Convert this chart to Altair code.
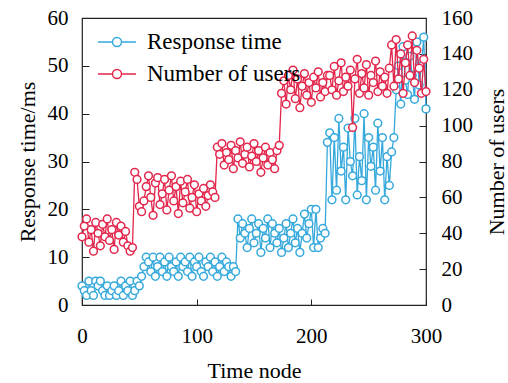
import altair as alt
import pandas as pd

time_nodes = list(range(0, 301, 2))

response_time = (
    [4, 3, 2, 5, 3, 2, 5, 4, 5, 3, 2, 4, 2, 3, 4, 2, 3, 5, 2, 4, 3, 5, 2]
    + [3, 5, 4, 6, 8, 10]
    + [9, 7, 10, 6, 8, 10, 7, 9, 6, 10, 8, 7, 9, 6, 10, 8, 9, 7, 10, 6,
       9, 8, 10, 7, 6, 9, 8, 10, 7, 9, 6, 8, 10, 7, 9, 8, 6, 8, 7]
    + [18, 14, 17, 15, 12, 16, 18, 13, 15, 17, 11, 16, 14, 18, 12, 17, 15, 13, 16, 11,
       14, 17, 12, 15, 18, 13, 16, 11, 15, 19, 14, 17, 20, 12]
    + [20, 12, 14, 16, 15]
    + [34, 36, 22, 35, 24, 39, 28, 33, 22, 37, 30, 27, 39, 23, 31, 26, 40, 22, 35, 29,
       33, 24, 38, 28, 35, 22, 31, 25]
    + [32, 35, 45, 50, 42, 54, 47, 44, 52, 48, 43, 55, 46, 50, 56, 41]
)

number_of_users = (
    [38, 44, 48, 35, 42, 30, 46, 40, 33, 45, 38, 48, 36, 42, 31, 46, 39, 44, 35, 41, 33, 30, 32]
    + [74, 70, 55, 52, 58, 66, 72, 60, 50, 68, 71, 56, 62, 70, 53, 64, 72, 58, 66, 51,
       69, 57, 63, 70, 54, 60, 67, 52, 62, 58, 65, 55, 61, 67, 63, 60]
    + [88, 84, 90, 78, 85, 81, 89, 76, 86, 82, 91, 79, 84, 88, 77, 83, 90, 80, 86, 74,
       82, 88, 78, 85, 81, 76, 86, 89]
    + [118, 125, 112, 128, 120, 131, 115, 126, 110, 122, 129, 117, 124, 113, 127, 121, 130, 116, 124, 119, 128]
    + [128, 120, 133, 117, 125, 135, 119, 127, 122, 131, 99, 126, 137, 118, 129, 121, 134, 117, 128, 124,
       136, 119, 130, 122, 127, 118, 132]
    + [145, 122, 148, 126, 140, 118, 135, 145, 128, 150, 124, 142, 132, 118, 137, 119]
)

series_names = ["Response time", "Number of users"]
series_colors = ["#36A9DC", "#E3264C"]
x_ticks = [0, 100, 200, 300]
left_ticks = [0, 10, 20, 30, 40, 50, 60]
right_ticks = [0, 20, 40, 60, 80, 100, 120, 140, 160]

df_rt = pd.DataFrame({"t": time_nodes, "v": response_time, "series": series_names[0]})
df_us = pd.DataFrame({"t": time_nodes, "v": number_of_users, "series": series_names[1]})

FONT = "Liberation Serif"
LFS = 21   # tick labels
TFS = 22   # axis titles
GFS = 23   # legend labels

axis_style = dict(
    labelFont=FONT, labelFontSize=LFS, labelColor="black",
    titleFont=FONT, titleFontSize=TFS, titleColor="black", titleFontWeight="normal",
    ticks=False, domain=False, grid=True, gridColor="#222222", gridWidth=1,
    gridOpacity=1, labelFlush=False, labelOverlap=False,
)

# legend symbol: short line with a hollow circle in the middle
legend_path = ("M-1.27,0H-0.3M0.3,0H1.27"
               "M0.3,0A0.3,0.3,0,1,1,-0.3,0A0.3,0.3,0,1,1,0.3,0Z")

color = alt.Color(
    "series:N",
    scale=alt.Scale(domain=series_names, range=series_colors),
    legend=alt.Legend(
        title=None,
        orient="none",
        legendX=19,
        legendY=8,
        symbolType=legend_path,
        symbolSize=900,
        symbolStrokeWidth=1.5,
        symbolFillColor="white",
        labelFont=FONT,
        labelFontSize=GFS,
        labelColor="black",
        labelOffset=14,
        rowPadding=4,
        padding=0,
    ),
)

# grid lines drawn as short dashes = inward tick marks
x_enc = alt.X(
    "t:Q",
    scale=alt.Scale(domain=[0, 300], nice=False),
    axis=alt.Axis(values=x_ticks, title="Time node", gridDash=[6, 1000],
                  gridDashOffset=725, labelPadding=20, titlePadding=14, **axis_style),
)

point_def = alt.OverlayMarkDef(shape="circle", filled=False, fill="white",
                               size=60, strokeWidth=1.5, opacity=1)

blue = alt.Chart(df_rt).mark_line(strokeWidth=1.3, point=point_def).encode(
    x=x_enc,
    y=alt.Y(
        "v:Q",
        scale=alt.Scale(domain=[0, 60], nice=False),
        axis=alt.Axis(orient="left", values=left_ticks, title="Response time/ms",
                      gridDash=[7, 1000], labelPadding=14, titlePadding=8, **axis_style),
    ),
    color=color,
)

red = alt.Chart(df_us).mark_line(strokeWidth=1.3, point=point_def).encode(
    x=x_enc,
    y=alt.Y(
        "v:Q",
        scale=alt.Scale(domain=[0, 160], nice=False),
        axis=alt.Axis(orient="right", values=right_ticks, title="Number of users",
                      titleAngle=270, titleBaseline="top", gridDash=[7, 1000],
                      labelPadding=15, titlePadding=14, **axis_style),
    ),
    color=color,
)

chart = (
    alt.layer(blue, red)
    .resolve_scale(y="independent")
    .properties(
        width=344, height=287,
        autosize=alt.AutoSizeParams(type="none"),
        padding={"left": 82, "top": 18, "right": 82, "bottom": 78},
        background="white",
    )
    .configure_view(stroke="#222222", strokeWidth=1.2)
)

chart.save("out.html", embed_options={"renderer": "svg", "actions": False})
